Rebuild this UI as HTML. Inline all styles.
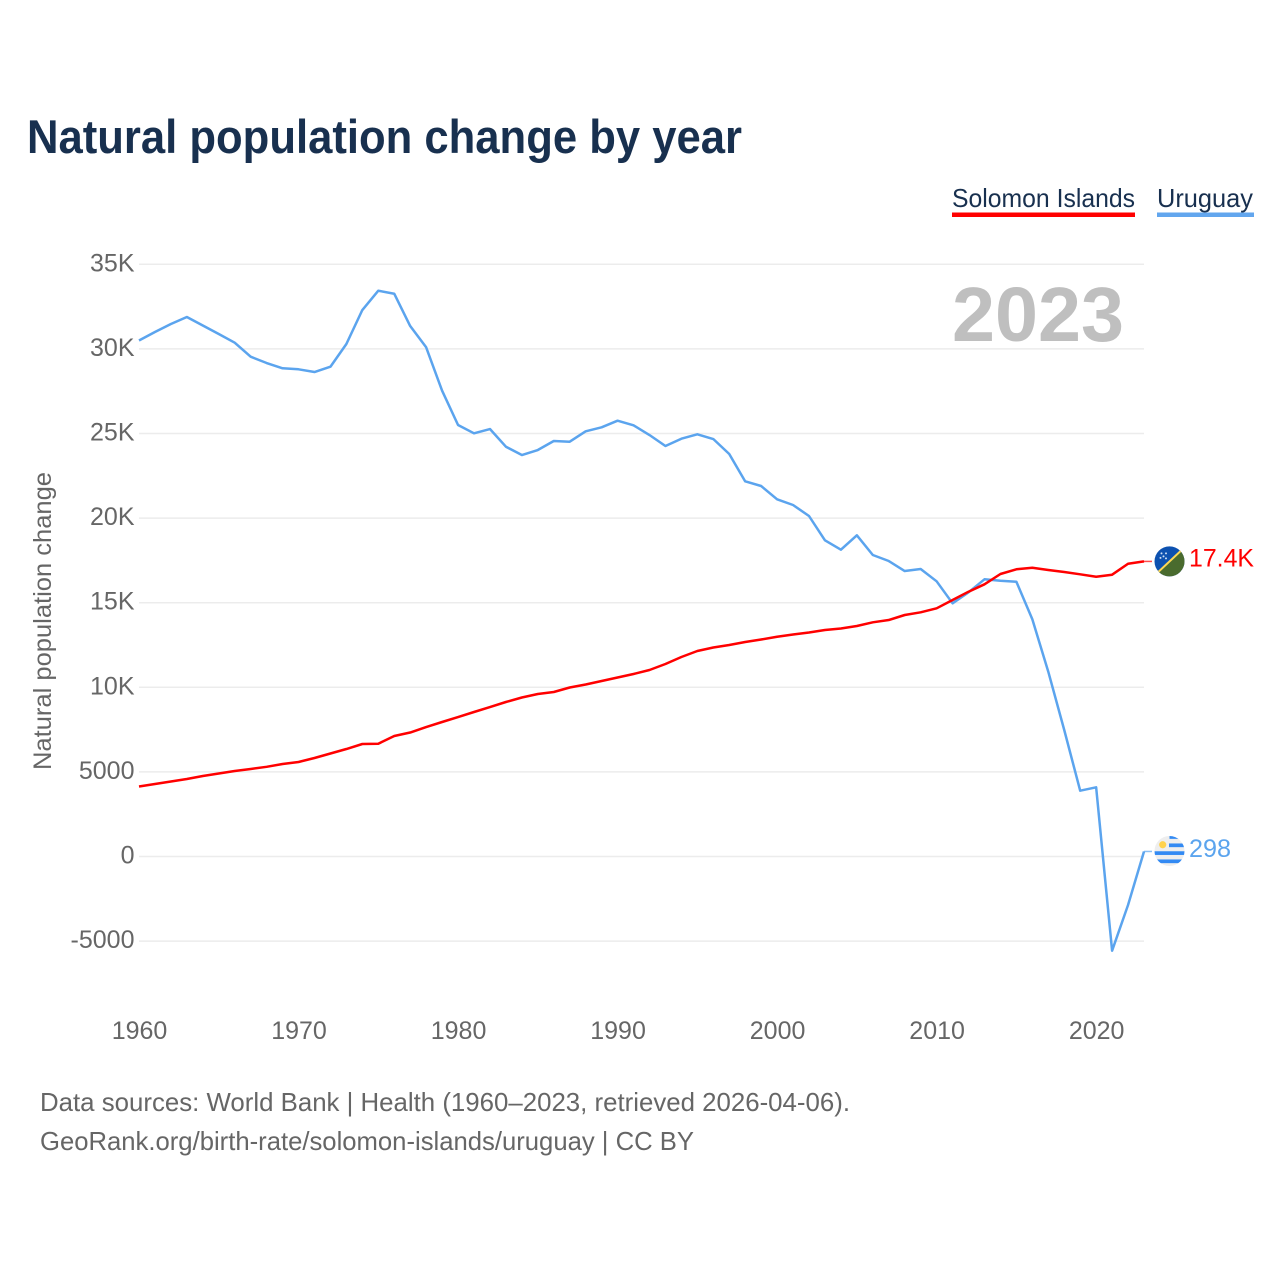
<!DOCTYPE html>
<html lang="en">
<head>
<meta charset="utf-8">
<title>Natural population change by year</title>
<style>
html,body{margin:0;padding:0;background:#fff;width:1280px;height:1280px;overflow:hidden}
svg{display:block}
text{font-family:"Liberation Sans",sans-serif}
</style>
</head>
<body>
<svg id="chart" width="1280" height="1280" viewBox="0 0 1280 1280" xmlns="http://www.w3.org/2000/svg">
  <defs>
    <clipPath id="flag-clip"><circle cx="0" cy="0" r="15"/></clipPath>
  </defs>
  <rect x="0" y="0" width="1280" height="1280" fill="#fff"/>
  <text x="27" y="153" font-size="47" font-weight="700" fill="#18304f" textLength="715" lengthAdjust="spacingAndGlyphs">Natural population change by year</text>

  <g>
    <text x="952" y="207" font-size="26" fill="#18304f" textLength="183" lengthAdjust="spacingAndGlyphs">Solomon Islands</text>
    <rect x="952" y="212.5" width="183" height="4.5" fill="#ff0000"/>
  </g>
  <g>
    <text x="1157" y="207" font-size="26" fill="#18304f" textLength="96" lengthAdjust="spacingAndGlyphs">Uruguay</text>
    <rect x="1157" y="212.5" width="97" height="4.5" fill="#62a6ee"/>
  </g>

  <g id="grid"></g>
  <g id="y-ticks"></g>
  <g id="x-ticks"></g>

  <text x="952" y="341" font-size="77" font-weight="700" fill="#bfbfbf" textLength="172" lengthAdjust="spacingAndGlyphs">2023</text>

  <text transform="translate(51,770) rotate(-90)" font-size="25" fill="#666" textLength="298" lengthAdjust="spacingAndGlyphs">Natural population change</text>

  <g id="series"></g>

  <g id="flag-solomon">
    <g clip-path="url(#flag-clip)">
      <rect x="-16" y="-16" width="32" height="32" fill="#0d51b0"/>
      <polygon points="-16,16 16,-16 16,16" fill="#4a6b2e"/>
      <line x1="-16" y1="15" x2="16" y2="-15" stroke="#fcd856" stroke-width="2"/>
      <circle cx="-8" cy="-8" r="1" fill="#cfe0f5"/>
      <circle cx="-3.5" cy="-8" r="1" fill="#cfe0f5"/>
      <circle cx="-6" cy="-5" r="1" fill="#cfe0f5"/>
      <circle cx="-9" cy="-3.5" r="1" fill="#cfe0f5"/>
      <circle cx="-3.5" cy="-3" r="1" fill="#cfe0f5"/>
    </g>
  </g>
  <g id="flag-uruguay">
    <g clip-path="url(#flag-clip)">
      <rect x="-16" y="-16" width="32" height="32" fill="#eeeeee"/>
      <rect x="0" y="-15.7" width="16" height="3.6" fill="#338af3"/>
      <rect x="-0.5" y="-7.5" width="16" height="3.7" fill="#338af3"/>
      <rect x="-16" y="0.3" width="32" height="3.7" fill="#338af3"/>
      <rect x="-16" y="8.5" width="32" height="3.7" fill="#338af3"/>
      <circle cx="-6.8" cy="-6.2" r="3.6" fill="#ffd24d"/>
    </g>
  </g>
  <text id="label-solomon" x="1189" y="566" font-size="25" fill="#ff0000" textLength="65" lengthAdjust="spacingAndGlyphs">17.4K</text>
  <text id="label-uruguay" x="1189" y="857" font-size="25" fill="#5ba4ee" textLength="42" lengthAdjust="spacingAndGlyphs">298</text>

  <text x="40" y="1111" font-size="26" fill="#666" textLength="810" lengthAdjust="spacingAndGlyphs">Data sources: World Bank | Health (1960–2023, retrieved 2026-04-06).</text>
  <text x="40" y="1150" font-size="26" fill="#666" textLength="654" lengthAdjust="spacingAndGlyphs">GeoRank.org/birth-rate/solomon-islands/uruguay | CC BY</text>
</svg>
<script>
const startYear = 1960;
const yTickValues = [35000, 30000, 25000, 20000, 15000, 10000, 5000, 0, -5000];
const yTickLabels = ["35K", "30K", "25K", "20K", "15K", "10K", "5000", "0", "-5000"];
const xTickYears = [1960, 1970, 1980, 1990, 2000, 2010, 2020];
const uruguayValues = [30496, 30998, 31471, 31884, 31382, 30880, 30366, 29538, 29166, 28853,
  28794, 28634, 28947, 30289, 32298, 33439, 33261, 31353, 30094, 27529,
  25502, 25011, 25265, 24219, 23729, 24024, 24556, 24515, 25129, 25366,
  25756, 25484, 24911, 24261, 24692, 24952, 24674, 23788, 22174, 21897,
  21111, 20774, 20124, 18687, 18132, 18983, 17819, 17464, 16873, 16991,
  16264, 14964, 15614, 16383, 16300, 16241, 14019, 10922, 7476, 3889,
  4090, -5567, -2866, 298];
const solomonValues = [4137, 4285, 4433, 4580, 4758, 4905, 5053, 5171, 5301, 5467,
  5585, 5821, 6087, 6353, 6649, 6665, 7122, 7328, 7653, 7949,
  8244, 8540, 8835, 9131, 9397, 9604, 9722, 9988, 10165, 10372,
  10579, 10786, 11022, 11377, 11790, 12145, 12352, 12500, 12677, 12825,
  12990, 13120, 13238, 13386, 13475, 13623, 13841, 13977, 14273, 14432,
  14669, 15159, 15650, 16087, 16696, 16974, 17068, 16932, 16814, 16678,
  16536, 16654, 17304, 17440];

const NS = 'http://www.w3.org/2000/svg';
function xScale(year) { return 139 + (year - startYear) * (1005 / 63); }
function yScale(value) { return 856.5 - value * (84.6 / 5000); }

const grid = document.getElementById('grid');
const yTicks = document.getElementById('y-ticks');
const xTicks = document.getElementById('x-ticks');
const seriesGroup = document.getElementById('series');

yTickValues.forEach(function (v, i) {
  const line = document.createElementNS(NS, 'line');
  
  
  line.setAttribute('x1', 139);
  line.setAttribute('x2', 1144);
  line.setAttribute('y1', yScale(v));
  line.setAttribute('y2', yScale(v));
  line.setAttribute('stroke', '#ececec');
  line.setAttribute('stroke-width', 1.5);
  grid.appendChild(line);

  const t = document.createElementNS(NS, 'text');
  
  
  t.setAttribute('x', 134.5);
  t.setAttribute('y', yScale(v) + 7);
  t.setAttribute('text-anchor', 'end');
  t.setAttribute('font-size', 25);
  t.setAttribute('fill', '#666');
  t.textContent = yTickLabels[i];
  yTicks.appendChild(t);
});

xTickYears.forEach(function (yr) {
  const t = document.createElementNS(NS, 'text');
  
  
  t.setAttribute('x', xScale(yr) + 0.5);
  t.setAttribute('y', 1039);
  t.setAttribute('text-anchor', 'middle');
  t.setAttribute('font-size', 25);
  t.setAttribute('fill', '#666');
  t.textContent = String(yr);
  xTicks.appendChild(t);
});

function drawSeries(values, color) {
  const pts = values.map(function (v, i) {
    return xScale(startYear + i).toFixed(2) + ',' + yScale(v).toFixed(2);
  }).join(' ');
  const line = document.createElementNS(NS, 'polyline');
  
  
  line.setAttribute('points', pts);
  line.setAttribute('fill', 'none');
  line.setAttribute('stroke', color);
  line.setAttribute('stroke-width', 2.5);
  line.setAttribute('stroke-linejoin', 'round');
  seriesGroup.appendChild(line);

  const lastY = yScale(values[values.length - 1]);
  const conn = document.createElementNS(NS, 'line');
  
  
  conn.setAttribute('x1', 1144);
  conn.setAttribute('x2', 1152);
  conn.setAttribute('y1', lastY);
  conn.setAttribute('y2', lastY);
  conn.setAttribute('stroke', color);
  conn.setAttribute('stroke-width', 1.5);
  conn.setAttribute('opacity', 0.7);
  seriesGroup.appendChild(conn);
  return lastY;
}

const uruguayEnd = drawSeries(uruguayValues, '#5ba4ee');
const solomonEnd = drawSeries(solomonValues, '#ff0000');

document.getElementById('flag-solomon').setAttribute('transform', 'translate(1169.5,' + solomonEnd + ')');
document.getElementById('flag-uruguay').setAttribute('transform', 'translate(1169.5,' + (uruguayEnd - 0.5) + ')');
document.getElementById('label-solomon').setAttribute('y', solomonEnd + 5);
document.getElementById('label-uruguay').setAttribute('y', uruguayEnd + 5.5);
</script>
</body>
</html>
